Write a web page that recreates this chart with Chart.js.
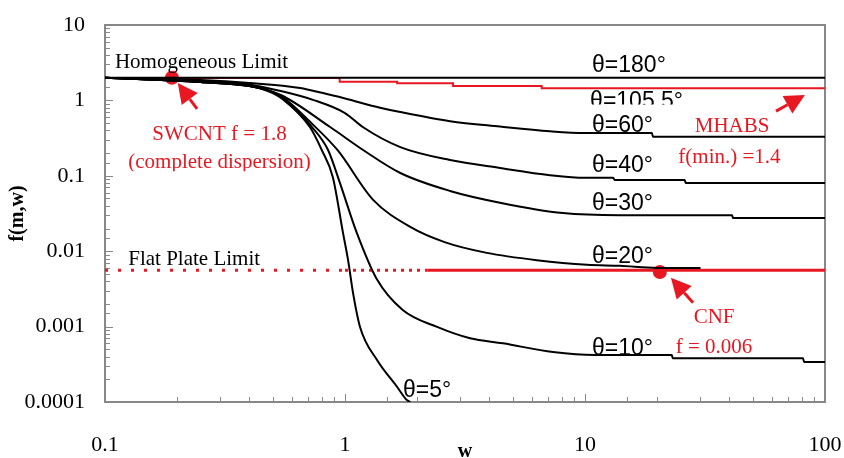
<!DOCTYPE html>
<html>
<head>
<meta charset="utf-8">
<script src="https://cdn.jsdelivr.net/npm/chart.js@4.4.0/dist/chart.umd.min.js"></script>
<style>
  html, body { margin: 0; padding: 0; background: #fff; }
</style>
</head>
<body>
<canvas id="chart" width="844" height="458"></canvas>
<script>
// f(m,w) curves (w on x, f on y, both log)
const w180 = [0.1, 100];
const f180 = [2.0, 2.0];

// MHABS, theta = 105.5 (red staircase)
const w105 = [0.1, 0.95, 1.65, 2.82, 6.6, 100];
const f105 = [1.98, 1.77, 1.69, 1.55, 1.45, 1.45];

const w60 = [0.1, 0.25, 0.4, 0.65, 0.81, 1.0, 1.4, 1.7, 2.74, 4.42, 7.15, 10, 19, 19.2, 100];
const f60 = [2.0, 1.86, 1.70, 1.46, 1.25, 1.06, 0.80, 0.70, 0.53, 0.45, 0.39, 0.37, 0.37, 0.33, 0.33];

const w40 = [0.1, 0.25, 0.4, 0.54, 0.74, 1.0, 1.19, 1.7, 2.74, 4.42, 7.15, 10, 13.1, 13.3, 26, 26.3, 100];
const f40 = [2.0, 1.81, 1.63, 1.33, 1.01, 0.68, 0.44, 0.24, 0.162, 0.127, 0.102, 0.094, 0.094, 0.088, 0.088, 0.080, 0.080];

const w30 = [0.1, 0.25, 0.4, 0.54, 0.87, 1.19, 1.7, 2.74, 4.42, 8.1, 14, 41, 41.4, 100];
const f30 = [2.0, 1.75, 1.55, 1.18, 0.44, 0.22, 0.109, 0.063, 0.044, 0.032, 0.030, 0.030, 0.0275, 0.0275];

const w20 = [0.1, 0.25, 0.4, 0.48, 0.55, 0.715, 0.93, 1.31, 1.87, 2.6, 3.9, 6.3, 10.2, 14, 20, 30.3];
const f20 = [2.0, 1.75, 1.55, 1.36, 1.11, 0.52, 0.22, 0.048, 0.021, 0.0132, 0.0095, 0.0076, 0.0066, 0.0064, 0.0060, 0.0060];

const w10 = [0.1, 0.25, 0.4, 0.48, 0.55, 0.73, 0.85, 0.953, 1.12, 1.36, 1.74, 2.42, 3.32, 4.55, 7.36, 11, 23, 23.2, 81, 81.8, 100];
const f10 = [2.0, 1.75, 1.55, 1.34, 1.08, 0.44, 0.22, 0.080, 0.0175, 0.0042, 0.00166, 0.00099, 0.0007, 0.0006, 0.00046, 0.00042, 0.00042, 0.00038, 0.00038, 0.00034, 0.00034];

const w5 = [0.1, 0.25, 0.4, 0.48, 0.55, 0.715, 0.80, 0.89, 0.981, 1.03, 1.08, 1.155, 1.36, 1.65, 1.81, 1.87];
const f5 = [2.0, 1.75, 1.55, 1.32, 1.04, 0.44, 0.22, 0.096, 0.0175, 0.0076, 0.0028, 0.00099, 0.00036, 0.000158, 0.000106, 0.0001];

// flat plate limit (red dotted then dense)
const wFlat = [0.1, 1.0, 2.2, 100];
const fFlat = [0.0056, 0.0056, 0.0056, 0.0056];

// measured materials
const wSWCNT = [0.19];
const fSWCNT = [2.0];
const wCNF = [20.5];
const fCNF = [0.0053];

const RED = 'rgb(232,24,34)';
const SERIF = 'Liberation Serif';
const SANS = 'Liberation Sans';

function pts(ws, fs) {
    return ws.map((w, i) => ({ x: w, y: fs[i] }));
}

function curve(ws, fs, color, width) {
    return {
        data: pts(ws, fs),
        borderColor: color || '#000',
        borderWidth: width || 2,
        pointRadius: 0,
        cubicInterpolationMode: 'monotone',
        fill: false
    };
}

function decadeLabel(value) {
    const e = Math.round(Math.log10(value));
    if (Math.abs(Math.log10(value) - e) > 1e-6) return '';
    return e < 0 ? value.toFixed(-e) : String(Math.round(value));
}

// text and arrows placed in data coordinates (clipF: text hidden below that level)
const labels = [
    { text: 'Homogeneous Limit', w: 0.11, f: 2.69, font: '21px ' + SERIF, color: '#000', align: 'left' },
    { text: 'Flat Plate Limit', w: 0.125, f: 0.0066, font: '21px ' + SERIF, color: '#000', align: 'left' },
    { text: 'θ=180°', w: 10.7, f: 2.38, font: '23px ' + SANS, color: '#000', align: 'left' },
    { text: 'θ=105.5°', w: 10.5, f: 0.80, font: '23px ' + SANS, color: '#000', align: 'left', clipF: 0.88 },
    { text: 'θ=60°', w: 10.7, f: 0.38, font: '23px ' + SANS, color: '#000', align: 'left' },
    { text: 'θ=40°', w: 10.7, f: 0.112, font: '23px ' + SANS, color: '#000', align: 'left' },
    { text: 'θ=30°', w: 10.7, f: 0.0352, font: '23px ' + SANS, color: '#000', align: 'left' },
    { text: 'θ=20°', w: 10.7, f: 0.00697, font: '23px ' + SANS, color: '#000', align: 'left' },
    { text: 'θ=10°', w: 10.7, f: 0.00042, font: '23px ' + SANS, color: '#000', align: 'left' },
    { text: 'θ=5°', w: 1.745, f: 0.000116, font: '23px ' + SANS, color: '#000', align: 'left' },
    { text: 'SWCNT f = 1.8', w: 0.30, f: 0.30, font: '21px ' + SERIF, color: RED, align: 'center' },
    { text: '(complete dispersion)', w: 0.30, f: 0.127, font: '21px ' + SERIF, color: RED, align: 'center', clipF: 0.115 },
    { text: 'MHABS', w: 41, f: 0.38, font: '21px ' + SERIF, color: RED, align: 'center' },
    { text: 'f(min.) =1.4', w: 40, f: 0.148, font: '21px ' + SERIF, color: RED, align: 'center' },
    { text: 'CNF', w: 34.5, f: 0.00112, font: '21px ' + SERIF, color: RED, align: 'center' },
    { text: 'f = 0.006', w: 34.5, f: 0.00045, font: '21px ' + SERIF, color: RED, align: 'center' }
];

const arrows = [
    { tipW: 0.201, tipF: 1.70, tailW: 0.242, tailF: 0.77 },
    { tipW: 82.5, tipF: 1.18, tailW: 62.5, tailF: 0.72 },
    { tipW: 22.8, tipF: 0.00444, tailW: 28.2, tailF: 0.00207 }
];

// frame, inside ticks, labels and arrows
const decorPlugin = {
    id: 'decor',
    beforeDatasetsDraw(chart) {
        const ctx = chart.ctx;
        const a = chart.chartArea;
        const xs = chart.scales.x, ys = chart.scales.y;
        ctx.save();
        ctx.strokeStyle = '#888';
        ctx.lineWidth = 2;
        ctx.strokeRect(a.left, a.top, a.right - a.left, a.bottom - a.top);
        ctx.lineWidth = 1;
        ctx.beginPath();
        xs.ticks.forEach(t => {
            const px = Math.round(xs.getPixelForValue(t.value)) + 0.5;
            const len = decadeLabel(t.value) ? 8 : 5;
            ctx.moveTo(px, a.bottom);
            ctx.lineTo(px, a.bottom - len);
        });
        ys.ticks.forEach(t => {
            const py = Math.round(ys.getPixelForValue(t.value)) + 0.5;
            const len = decadeLabel(t.value) ? 8 : 5;
            ctx.moveTo(a.left, py);
            ctx.lineTo(a.left + len, py);
        });
        ctx.stroke();
        ctx.restore();
    },
    afterDatasetsDraw(chart) {
        const ctx = chart.ctx;
        const xs = chart.scales.x, ys = chart.scales.y;
        labels.forEach(l => {
            ctx.save();
            if (l.clipF) {
                ctx.beginPath();
                ctx.rect(0, 0, chart.width, ys.getPixelForValue(l.clipF));
                ctx.clip();
            }
            ctx.font = l.font;
            ctx.fillStyle = l.color;
            ctx.textAlign = l.align;
            ctx.textBaseline = 'alphabetic';
            ctx.fillText(l.text, xs.getPixelForValue(l.w), ys.getPixelForValue(l.f));
            ctx.restore();
        });
        ctx.save();
        ctx.fillStyle = RED;
        ctx.strokeStyle = RED;
        arrows.forEach(ar => {
            const tx = xs.getPixelForValue(ar.tipW), ty = ys.getPixelForValue(ar.tipF);
            const sx = xs.getPixelForValue(ar.tailW), sy = ys.getPixelForValue(ar.tailF);
            const ang = Math.atan2(ty - sy, tx - sx);
            const head = 20, half = 10;
            const bx = tx - head * Math.cos(ang), by = ty - head * Math.sin(ang);
            ctx.lineWidth = 3;
            ctx.beginPath();
            ctx.moveTo(sx, sy);
            ctx.lineTo(bx, by);
            ctx.stroke();
            ctx.beginPath();
            ctx.moveTo(tx, ty);
            ctx.lineTo(bx + half * Math.sin(ang), by - half * Math.cos(ang));
            ctx.lineTo(bx - half * Math.sin(ang), by + half * Math.cos(ang));
            ctx.closePath();
            ctx.fill();
        });
        ctx.restore();
    }
};

const flat = curve(wFlat, fFlat, RED, 3);
flat.segment = {
    borderDash: c => c.p0DataIndex === 0 ? [3, 10] : (c.p0DataIndex === 1 ? [3, 5] : [])
};

const datasets = [
    curve(w180, f180),
    curve(w60, f60),
    curve(w40, f40),
    curve(w30, f30),
    curve(w20, f20),
    curve(w10, f10),
    curve(w5, f5),
    flat,
    Object.assign(curve(w105, f105, RED, 2), { stepped: true }),
    { data: pts(wSWCNT, fSWCNT), showLine: false, pointRadius: 7, pointBackgroundColor: RED, pointBorderWidth: 0 },
    { data: pts(wCNF, fCNF), showLine: false, pointRadius: 7, pointBackgroundColor: RED, pointBorderWidth: 0 }
];

const tickFont = { family: SERIF, size: 22 };

new Chart(document.getElementById('chart'), {
    type: 'line',
    data: { datasets: datasets },
    options: {
        responsive: false,
        animation: false,
        devicePixelRatio: 1,
        layout: { padding: { top: 25, right: 19, left: 0, bottom: 0 } },
        plugins: { legend: { display: false }, tooltip: { enabled: false } },
        scales: {
            x: {
                type: 'logarithmic',
                min: 0.1,
                max: 100,
                grid: { display: false, drawTicks: false },
                border: { display: false },
                ticks: { autoSkip: false, maxRotation: 0, padding: 30, color: '#000', font: tickFont, callback: decadeLabel },
                title: { display: true, text: 'w', color: '#000', font: { family: SERIF, size: 20, weight: 'bold' }, padding: { top: 0, bottom: -6 } },
                afterFit: s => { s.height = 56; s.paddingLeft = 0; s.paddingRight = 0; }
            },
            y: {
                type: 'logarithmic',
                min: 0.0001,
                max: 10,
                grid: { display: false, drawTicks: false },
                border: { display: false },
                ticks: { autoSkip: false, padding: 20, color: '#000', font: tickFont, callback: decadeLabel },
                title: { display: true, text: 'f(m,w)', color: '#000', font: { family: SERIF, size: 20, weight: 'bold' }, padding: { top: 6 } },
                afterFit: s => { s.width = 105; s.paddingTop = 0; s.paddingBottom = 0; }
            }
        }
    },
    plugins: [decorPlugin]
});
</script>
</body>
</html>
